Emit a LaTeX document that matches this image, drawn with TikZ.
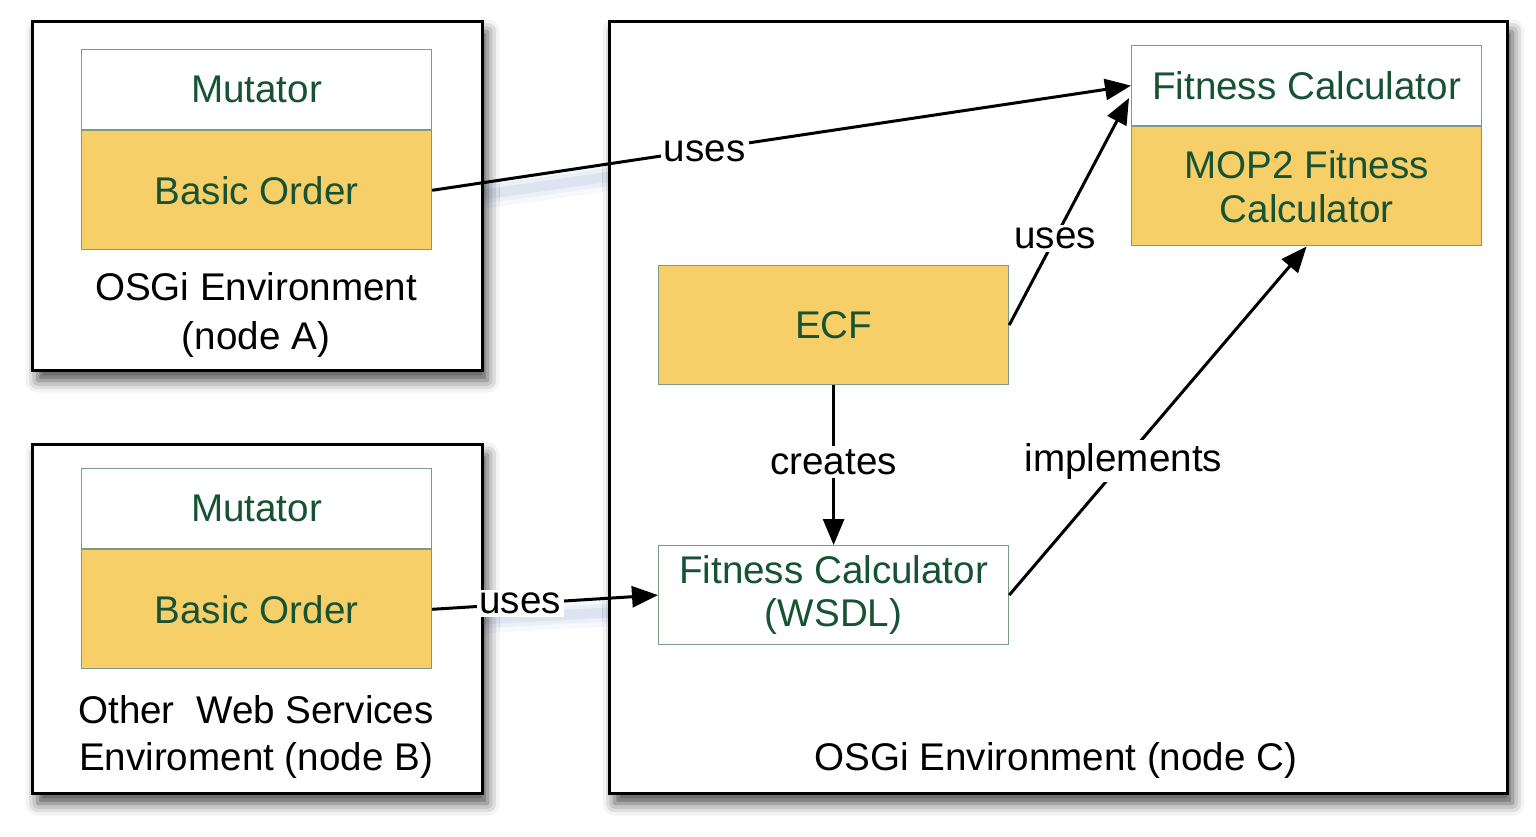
\documentclass[tikz,border=0pt]{standalone}
\usepackage{fontspec}
\setmainfont{Liberation Sans}
\usetikzlibrary{arrows.meta,shadows.blur,calc}
\definecolor{txtgreen}{RGB}{22,82,52}
\definecolor{partborder}{RGB}{122,156,132}
\definecolor{partyellow}{RGB}{247,207,104}
\definecolor{glow}{RGB}{170,185,215}
\tikzset{
  env/.style={draw=black, line width=1.6pt, fill=white, inner sep=0pt,
    blur shadow={shadow xshift=2.5pt, shadow yshift=-5pt, shadow blur radius=6pt, shadow opacity=70}},
  part/.style={draw=partborder, line width=0.6pt, inner sep=0pt, text=txtgreen,
    minimum width=175pt, align=center},
  hdr/.style={part, fill=white, minimum height=40pt},
  body/.style={part, fill=partyellow, minimum height=59.5pt},
  lbl/.style={text=black, align=center},
  arr/.style={line width=1.5pt, -{Triangle[length=13pt, width=10.5pt]}},
  tag/.style={fill=white, inner sep=1.5pt, text=black},
  glowline/.style={color=glow, line cap=round},
}
\begin{document}
\begin{tikzpicture}[x=0.5pt, y=-0.5pt, font=\fontsize{19.3pt}{24pt}\selectfont]
\useasboundingbox (0,0) rectangle (1536,836);
% faint shadows of the connectors in the gap between boxes
\foreach \w/\o in {14pt/0.10, 9pt/0.15, 5pt/0.2} {
  \draw[glowline, line width=\w, opacity=\o] (431,202) -- (700,164);
  \draw[glowline, line width=\w, opacity=\o] (431,622) -- (655,610);
}
% environments
\node[env, minimum width=225pt, minimum height=174.5pt, anchor=north west] (envA) at (31,20) {};
\node[env, minimum width=225pt, minimum height=174.5pt, anchor=north west] (envB) at (31,443) {};
\node[env, minimum width=449pt, minimum height=386pt, anchor=north west] (envC) at (608,20) {};
% node A
\node[hdr, anchor=north west] (mutA) at (81,49) {Mutator};
\node[body, anchor=north] (boA) at (mutA.south) {Basic Order};
\node[lbl, font=\fontsize{19.3pt}{24.5pt}\selectfont] (labA) at (256,315) {OSGi Environment\\(node A)};
% node B
\node[hdr, anchor=north west] (mutB) at (81,468) {Mutator};
\node[body, anchor=north] (boB) at (mutB.south) {Basic Order};
\node[lbl, font=\fontsize{19.3pt}{23.5pt}\selectfont] (labB) at (256,737) {Other\ \ Web Services\\Enviroment (node B)};
% node C
\node[hdr, anchor=north west] (fcTop) at (1131,45) {Fitness Calculator};
\node[body, anchor=north, font=\fontsize{19.3pt}{22pt}\selectfont] (mop) at (fcTop.south) {MOP2 Fitness\\Calculator};
\node[body, anchor=north west] (ecf) at (658,265) {ECF};
\node[part, fill=white, minimum height=49.5pt, anchor=north west, font=\fontsize{19.3pt}{21.5pt}\selectfont] (wsdl) at (658,545) {Fitness Calculator\\(WSDL)};
\node[lbl] (labC) at (1056,760) {OSGi Environment (node C)};
\coordinate (fcIn) at (1129,98);
% connectors
\draw[arr] (boA.east) -- node[tag, pos=0.39, yshift=-1pt] {uses} (fcTop.west);
\draw[arr] (ecf.east) -- node[tag, pos=0.383] {uses} (fcIn);
\draw[arr] (ecf.south) -- node[tag, pos=0.48] {creates} (wsdl.north);
\draw[arr] (wsdl.east) -- node[tag, pos=0.384] {implements} (mop.south);
\draw[arr] (boB.east) -- node[tag, pos=0.39] {uses} (wsdl.west);
\end{tikzpicture}
\end{document}
